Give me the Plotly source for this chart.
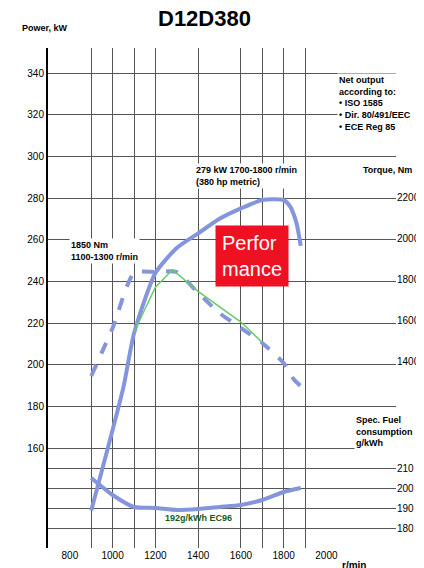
import plotly.graph_objects as go

rpm_power = [900, 1050, 1100, 1200, 1300, 1400, 1500, 1600, 1700, 1800, 1830, 1860, 1880]
power_kw = [130, 189, 215, 244, 256, 263, 270, 275, 279, 279, 276, 268, 257]

rpm_torque = [900, 1000, 1100, 1200, 1300, 1400, 1500, 1600, 1700, 1800, 1850, 1880]
torque_nm = [1327, 1561, 1829, 1834, 1834, 1732, 1634, 1561, 1488, 1390, 1307, 1278]

rpm_green = [1100, 1200, 1280, 1400, 1600, 1700]
torque_green = [1540, 1760, 1845, 1740, 1590, 1490]

rpm_fuel = [900, 1000, 1100, 1200, 1300, 1400, 1500, 1600, 1700, 1800, 1880]
fuel_gkwh = [205, 196.5, 190.5, 190, 189, 189.5, 190.5, 191.5, 194, 198, 200]

power_ticks = [160, 180, 200, 220, 240, 260, 280, 300, 320, 340]
torque_ticks = [1400, 1600, 1800, 2000, 2200]
fuel_ticks = [180, 190, 200, 210]
rpm_ticks = [800, 1000, 1200, 1400, 1600, 1800, 2000]
rpm_grid = [900, 1000, 1100, 1200, 1400, 1600, 1700, 1800, 1900]

blue = "#8595dd"
font = "Liberation Sans"
x_range = [697.7, 2325.6]

fig = go.Figure()
fig.add_trace(go.Scatter(x=rpm_power, y=power_kw, mode="lines", line=dict(color=blue, width=4, shape="spline", smoothing=0.6), yaxis="y"))
fig.add_trace(go.Scatter(x=rpm_torque, y=torque_nm, mode="lines", line=dict(color=blue, width=4, dash="dash", shape="spline", smoothing=0.6), yaxis="y2"))
fig.add_trace(go.Scatter(x=rpm_green, y=torque_green, mode="lines", line=dict(color="#66cc66", width=1.5), yaxis="y2"))
fig.add_trace(go.Scatter(x=rpm_fuel, y=fuel_gkwh, mode="lines", line=dict(color=blue, width=4, shape="spline", smoothing=0.6), yaxis="y3"))
# invisible trace on a second x axis that carries the irregular vertical grid
fig.add_trace(go.Scatter(x=[x_range[0]], y=[200], mode="markers", marker=dict(opacity=0), xaxis="x2", hoverinfo="skip"))

tickf = dict(family=font, size=10, color="black")
fig.update_layout(
    width=424, height=568, showlegend=False,
    paper_bgcolor="white", plot_bgcolor="white",
    margin=dict(l=40, r=34, t=40, b=28),
    font=tickf,
    xaxis=dict(range=x_range, tickvals=rpm_ticks, showgrid=False, zeroline=False, ticks="", tickfont=tickf),
    xaxis2=dict(range=x_range, tickvals=rpm_grid, overlaying="x", showgrid=True, gridcolor="#555",
                showticklabels=False, zeroline=False, ticks=""),
    yaxis=dict(range=[112, 352], tickvals=power_ticks, showgrid=True, gridcolor="#555",
               showline=True, linecolor="black", linewidth=2, zeroline=False, ticks="", tickfont=tickf),
    yaxis2=dict(range=[487.8, 2926.8], tickvals=torque_ticks, overlaying="y", side="right",
                showgrid=False, zeroline=False, tickfont=tickf),
    yaxis3=dict(range=[170, 420], tickvals=fuel_ticks, overlaying="y", side="right",
                showgrid=True, gridcolor="#555", zeroline=False, tickfont=tickf),
)

notes = [
    ("<b>Power, kW</b>", -0.08, 1.055, 9),
    ("<b>Net output<br>according to:<br>• ISO 1585<br>• Dir. 80/491/EEC<br>• ECE Reg 85</b>", 0.83, 0.95, 9),
    ("<b>279 kW 1700-1800 r/min<br>(380 hp metric)</b>", 0.42, 0.77, 9),
    ("<b>Torque, Nm</b>", 0.9, 0.77, 9),
    ("<b>1850 Nm<br>1100-1300 r/min</b>", 0.06, 0.62, 9),
    ("<b>Spec. Fuel<br>consumption<br>g/kWh</b>", 0.88, 0.27, 9),
]
for text, x, y, size in notes:
    fig.add_annotation(text=text, xref="paper", yref="paper", x=x, y=y, showarrow=False,
                       xanchor="left", yanchor="top", align="left",
                       font=dict(family=font, size=size, color="black"), bgcolor="white")

fig.add_annotation(text="<b>D12D380</b>", xref="paper", yref="paper", x=0.45, y=1.03,
                   showarrow=False, yanchor="bottom", font=dict(family=font, size=22, color="black"))
fig.add_annotation(text="<b>r/min</b>", xref="paper", yref="paper", x=0.84, y=-0.034,
                   showarrow=False, xanchor="left", yanchor="middle", font=tickf)
fig.add_annotation(text="<b>192g/kWh EC96</b>", x=1400, y=185, yref="y3", showarrow=False,
                   font=dict(family=font, size=9, color="#1a5a1a"))
fig.add_annotation(text="Perfor<br>mance", x=1650, y=252, yref="y", showarrow=False,
                   font=dict(family=font, size=20, color="white"), bgcolor="#ee1122",
                   borderpad=6, align="left")

fig.write_html("out.html")
